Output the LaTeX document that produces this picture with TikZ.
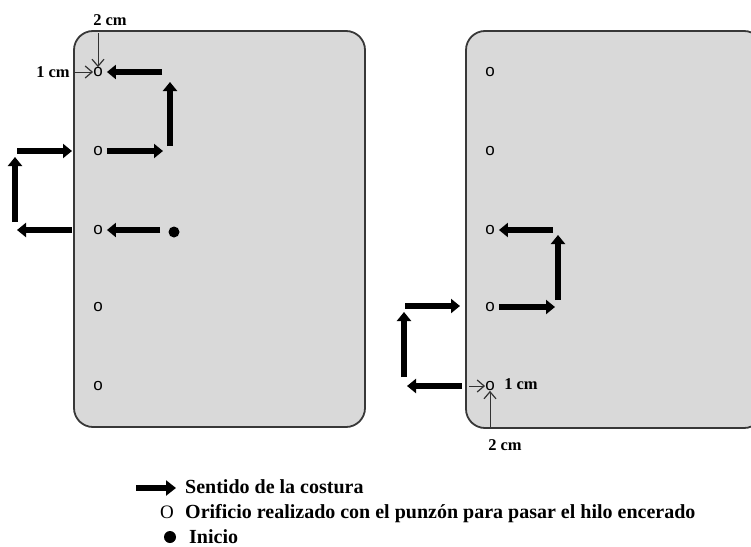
\documentclass[tikz,border=0pt]{standalone}
\usepackage{fontspec}
\setmainfont{Liberation Serif}
\setsansfont{Liberation Sans}
\usetikzlibrary{arrows.meta, positioning}
\tikzset{
  page/.style={draw=black!78, line width=1.8pt, fill=black!15, rounded corners=19pt},
  hole/.style={font=\sffamily\fontsize{17}{17}\selectfont, inner sep=0pt},
  stitch/.style={line width=6.5pt, -{Triangle[width=14pt,length=9pt]}},
  dim/.style={black!80, line width=1pt, -{Straight Barb[length=7pt,width=12pt,line width=1.2pt]}},
  lbl/.style={font=\bfseries\fontsize{16.5}{16.5}\selectfont, inner sep=0pt},
  legend/.style={font=\bfseries\fontsize{20}{20}\selectfont, anchor=base west, inner sep=0pt}
}
\begin{document}
\begin{tikzpicture}[x=1pt, y=-1pt]
\clip (0,0) rectangle (751,546);
\draw[page] (74,31) rectangle (365,427);
\draw[page] (466,31) rectangle (763,428);
\foreach \i/\y in {1/72, 2/151, 3/230, 4/307, 5/386} {
  \node[hole] (hL\i) at (98,\y) {o};
  \node[hole] (hR\i) at (490,\y) {o};
}
\draw[stitch, shorten >=4pt] (162,72) -- (hL1);
\draw[stitch] (170,146) -- (170,82);
\draw[stitch, shorten <=4pt] (hL2) -- (163,151);
\draw[stitch, shorten >=4pt] (160,230) -- (hL3);
\fill (174,232) circle (5.5);
\draw[stitch] (72,230) -- (17,230);
\draw[stitch] (15,222) -- (15,157);
\draw[stitch] (17,151) -- (72,151);
\draw[stitch, shorten >=4pt] (553,230) -- (hR3);
\draw[stitch] (558,300) -- (558,235);
\draw[stitch, shorten <=4pt] (hR4) -- (555,307);
\draw[stitch] (405,306) -- (460,306);
\draw[stitch] (404,377) -- (404,312);
\draw[stitch] (462,386) -- (407,386);
\draw[dim] (hL1 |- 0,33) -- (hL1);
\draw[dim] (74,72) -- (hL1);
\draw[dim] (469,386) -- (hR5);
\draw[dim] (hR5 |- 0,427) -- (hR5);
\node[lbl] (top2) at (110,20) {2 cm};
\node[lbl] (left1) at (53,72) {1 cm};
\node[lbl] (right1) at (521,384) {1 cm};
\node[lbl] (bot2) at (505,445) {2 cm};
\draw[stitch, -{Triangle[width=15pt,length=10pt]}] (136,488) -- (176,488);
\node[legend] (sent) at (185,493) {Sentido de la costura};
\node[font=\fontsize{19}{19}\selectfont, inner sep=0pt, anchor=base] (orif) at (167,518) {O};
\node[legend] (orift) at (185,518) {Orificio realizado con el punzón para pasar el hilo encerado};
\fill (170,537) circle (6);
\node[legend] (ini) at (189,543) {Inicio};
\end{tikzpicture}
\end{document}
